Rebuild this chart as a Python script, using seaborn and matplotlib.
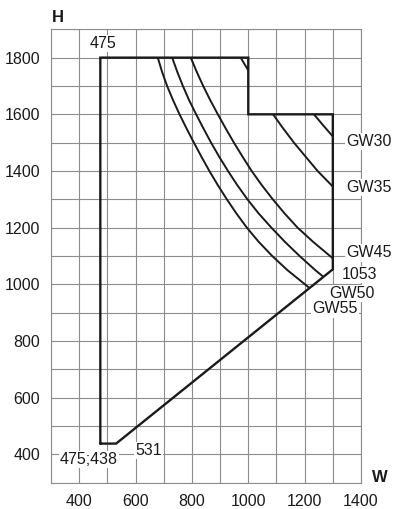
import matplotlib
matplotlib.use("Agg")
import matplotlib.pyplot as plt
import seaborn as sns
import numpy as np
from matplotlib.patches import Polygon

# ---- data ----
outline_w = [475, 475, 1000, 1000, 1300, 1300, 531, 475]
outline_h = [438, 1800, 1800, 1600, 1600, 1053, 438, 438]

gw55_h = [1800, 1750, 1700, 1650, 1600, 1550, 1500, 1450, 1400,
          1350, 1300, 1250, 1200, 1150, 1100, 1050, 988]
gw55_w = [679, 694, 712, 733, 756, 781, 807, 834, 862,
          892, 924, 958, 995, 1037, 1085, 1139, 1216]

gw50_h = [1800, 1750, 1700, 1650, 1600, 1550, 1500, 1450, 1400,
          1350, 1300, 1250, 1200, 1150, 1100, 1050, 1027]
gw50_w = [730, 748, 768, 790, 815, 841, 868, 897, 928,
          961, 997, 1037, 1082, 1130, 1182, 1238, 1266]

gw45_h = [1800, 1750, 1700, 1650, 1600, 1550, 1500, 1450, 1400,
          1350, 1300, 1250, 1200, 1150, 1100, 1092]
gw45_w = [796, 817, 840, 865, 892, 920, 949, 980, 1012,
          1048, 1087, 1129, 1175, 1230, 1290, 1300]

gw35_top_w = [973, 1000]
gw35_top_h = [1800, 1755]
gw35_w = [1088, 1124, 1162, 1204, 1246, 1300]
gw35_h = [1600, 1550, 1500, 1450, 1400, 1345]

gw30_w = [1233, 1265, 1300]
gw30_h = [1600, 1562, 1522]

x_ticks = [400, 600, 800, 1000, 1200, 1400]
y_ticks = [400, 600, 800, 1000, 1200, 1400, 1600, 1800]

series_labels = ["GW30", "GW35", "GW45", "1053", "GW50", "GW55"]
label_pos_w = [1347, 1347, 1347, 1333, 1287, 1227]
label_pos_h = [1504, 1341, 1111, 1036, 969, 913]

sns.set_theme(style="white")
plt.rcParams["font.family"] = ["Liberation Sans", "DejaVu Sans"]

fig = plt.figure(figsize=(3.95, 5.09), dpi=100)
ax = fig.add_axes([51 / 395, 1 - 482.7 / 509, 310 / 395, 453.4 / 509])

grid_c = "#8c8c8c"
line_c = "#1a1a1a"

ax.set_xlim(300, 1400)
ax.set_ylim(300, 1900)
ax.set_xticks(x_ticks)
ax.set_yticks(y_ticks)
ax.set_xticks(range(300, 1401, 100), minor=True)
ax.set_yticks(range(300, 1901, 100), minor=True)
ax.grid(which="both", color=grid_c, lw=0.8)
ax.set_axisbelow(True)
ax.tick_params(which="major", length=4, width=0.8, color=grid_c,
               labelsize=11.5, labelcolor="#1a1a1a", pad=4)
ax.tick_params(which="minor", length=0)
for s in ax.spines.values():
    s.set_color(grid_c)
    s.set_linewidth(0.8)

clip = Polygon(np.column_stack([outline_w, outline_h]), closed=True,
               facecolor="none", edgecolor="none")
ax.add_patch(clip)

curves = [(gw55_w, gw55_h), (gw50_w, gw50_h), (gw45_w, gw45_h),
          (gw35_top_w, gw35_top_h), (gw35_w, gw35_h), (gw30_w, gw30_h)]
n_before = len(ax.lines)
for w, h in curves:
    sns.lineplot(x=w, y=h, sort=False, estimator=None, color=line_c,
                 lw=1.4, ax=ax)
for ln in ax.lines[n_before:]:
    ln.set_clip_path(clip)

sns.lineplot(x=outline_w, y=outline_h, sort=False, estimator=None,
             color=line_c, lw=1.7, ax=ax)
ax.lines[-1].set_solid_joinstyle("miter")

box = dict(facecolor="white", edgecolor="none", pad=0.8)
for t, x, y in zip(series_labels, label_pos_w, label_pos_h):
    ax.text(x, y, t, ha="left", va="center", fontsize=11.5, color=line_c,
            bbox=box, clip_on=False, zorder=5)

ax.text(484, 1851, "475", ha="center", va="center", fontsize=11.5,
        color=line_c, bbox=box, zorder=5)
ax.text(434, 382, "475;438", ha="center", va="center", fontsize=11.5,
        color=line_c, bbox=box, zorder=5)
ax.text(647, 413, "531", ha="center", va="center", fontsize=11.5,
        color=line_c, bbox=box, zorder=5)

fig.text(58 / 395, 1 - 17 / 509, "H", ha="center", va="center",
         fontsize=12, fontweight="bold", color=line_c)
fig.text(380 / 395, 1 - 478 / 509, "W", ha="center", va="center",
         fontsize=12, fontweight="bold", color=line_c)

ax.set_xlabel("")
ax.set_ylabel("")
fig.savefig("out.png", dpi=100)
